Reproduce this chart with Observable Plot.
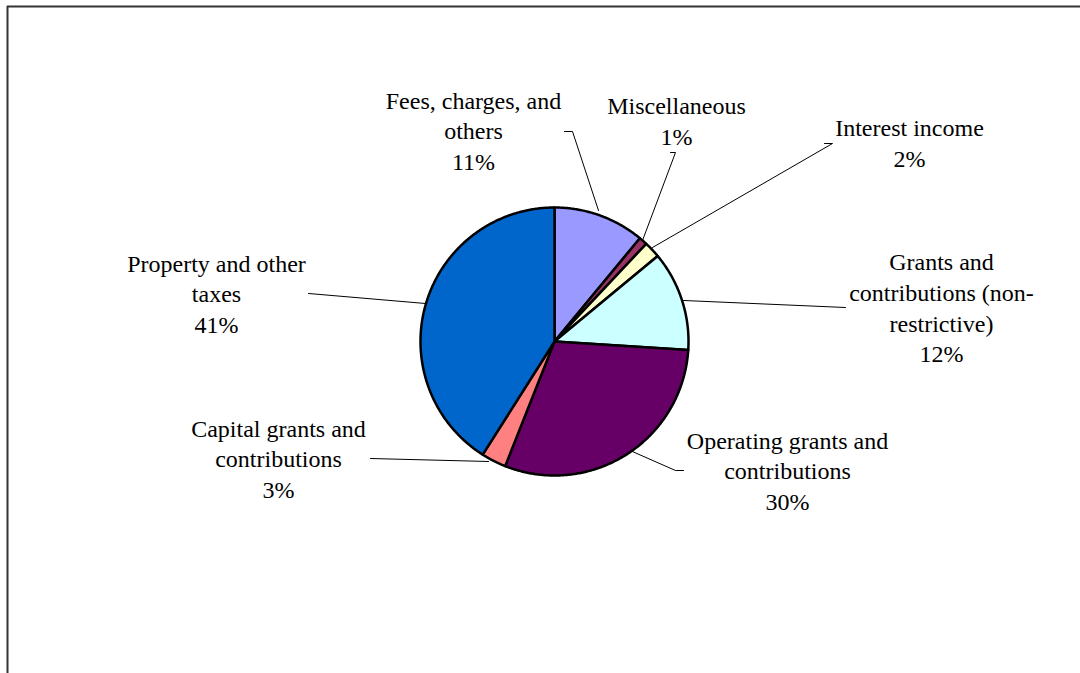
<!DOCTYPE html>
<html><head><meta charset="utf-8">
<script src="https://cdn.jsdelivr.net/npm/d3@7"></script>
<script src="https://cdn.jsdelivr.net/npm/@observablehq/plot@0.6"></script>
<style>html,body{margin:0;padding:0;background:#fff;overflow:hidden}
svg text{font-family:"Liberation Serif","Times New Roman",Times,"DejaVu Serif",serif !important;}</style>
</head><body><div id="chart"></div>
<script>
// Data
const categories = ["Fees, charges, and others", "Miscellaneous", "Interest income",
  "Grants and contributions (non-restrictive)", "Operating grants and contributions",
  "Capital grants and contributions", "Property and other taxes"];
const values = [11, 1, 2, 12, 30, 3, 41];
const colors = ["#9999FF", "#993366", "#FFFFCC", "#CCFFFF", "#660066", "#FF8080", "#0066CC"];
const labelText = ["Fees, charges, and\nothers", "Miscellaneous", "Interest income",
  "Grants and\ncontributions (non-\nrestrictive)", "Operating grants and\ncontributions",
  "Capital grants and\ncontributions", "Property and other\ntaxes"];

// Layout
const cx = 554, cy = 341, r = 134;
const labelX = [473, 676, 909, 941, 787, 278, 216];
const labelY = [129, 119, 141, 306, 469, 457, 292];
const leaders = [
  [[564,131],[572,131],[598,210]],
  [[670,152],[675,152],[642,240]],
  [[824,143],[832,143],[652,247]],
  [[683,300],[845,307]],
  [[625,448],[675,470],[683,470]],
  [[370,458],[488,461]],
  [[308,293],[425,303]]
];

const total = d3.sum(values);
const arcs = d3.pie().sort(null).value(d => d)(values);
const sliceMarks = arcs.map((a, i) => {
  const pts = [{x: cx, y: cy}];
  const n = Math.max(4, Math.ceil((a.endAngle - a.startAngle) / (Math.PI / 360)));
  for (let k = 0; k <= n; k++) {
    const t = a.startAngle + (a.endAngle - a.startAngle) * k / n;
    pts.push({x: cx + r * Math.sin(t), y: cy - r * Math.cos(t)});
  }
  pts.push({x: cx, y: cy});
  return Plot.line(pts, {x: "x", y: "y", fill: colors[i], stroke: "black", strokeWidth: 2.5, strokeLinejoin: "round"});
});

const leaderData = leaders.flatMap((pts, i) => pts.map(([x, y]) => ({x, y, id: i})));
const labels = categories.map((c, i) => ({
  x: labelX[i], y: labelY[i],
  text: labelText[i] + "\n" + Math.round(values[i] / total * 100) + "%"
}));

const chart = Plot.plot({
  width: 1080, height: 673, margin: 0,
  x: {domain: [0, 1080], range: [0, 1080], axis: null},
  y: {domain: [0, 673], range: [0, 673], axis: null},
  style: {background: "white", fontFamily: "'Liberation Serif', 'Times New Roman', serif"},
  marks: [
    Plot.ruleY([6], {x1: 7, x2: 1080, stroke: "#333", strokeWidth: 2}),
    Plot.ruleX([7], {y1: 6, y2: 673, stroke: "#333", strokeWidth: 2}),
    Plot.line(leaderData, {x: "x", y: "y", z: "id", stroke: "black", strokeWidth: 1}),
    ...sliceMarks,
    Plot.text(labels, {x: "x", y: "y", text: "text", fontSize: 24, lineHeight: 1.28,
      lineAnchor: "middle", textAnchor: "middle", fill: "black"})
  ]
});
document.getElementById("chart").appendChild(chart);
</script></body></html>
